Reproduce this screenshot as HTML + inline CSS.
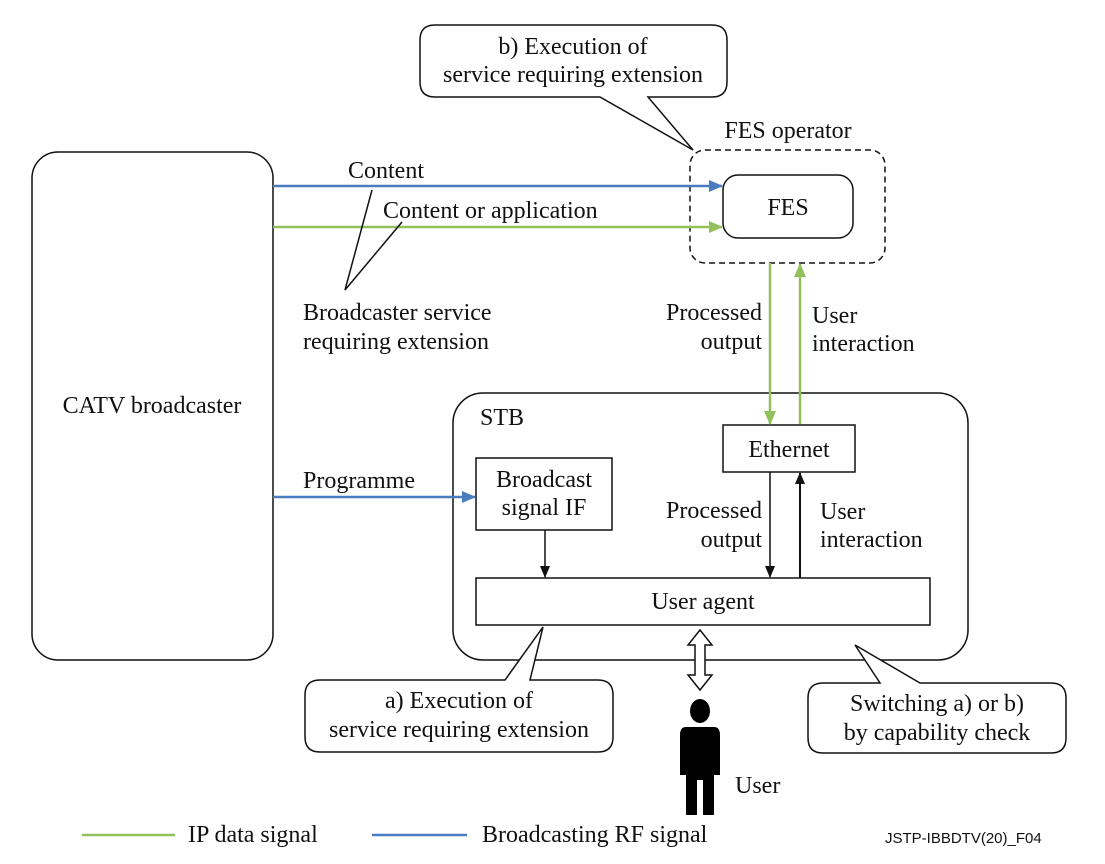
<!DOCTYPE html>
<html><head><meta charset="utf-8"><style>
html,body{margin:0;padding:0;background:#fff;}
svg{display:block;}
text{font-family:"Liberation Serif",serif;font-size:24px;fill:#111;}
</style></head><body>
<svg width="1105" height="864" viewBox="0 0 1105 864" xmlns="http://www.w3.org/2000/svg">
<defs>
<marker id="ab" markerWidth="14" markerHeight="12" refX="13" refY="6" orient="auto" markerUnits="userSpaceOnUse"><path d="M0,0 L14,6 L0,12 z" fill="#4a7cc0"/></marker>
<marker id="ag" markerWidth="14" markerHeight="12" refX="13" refY="6" orient="auto" markerUnits="userSpaceOnUse"><path d="M0,0 L14,6 L0,12 z" fill="#92c05a"/></marker>
<marker id="ak" markerWidth="12" markerHeight="10" refX="11" refY="5" orient="auto" markerUnits="userSpaceOnUse"><path d="M0,0 L12,5 L0,10 z" fill="#111"/></marker>
</defs>
<g fill="none" stroke="#111" stroke-width="1.5">
<rect x="32" y="152" width="241" height="508" rx="26"/>
<rect x="453" y="393" width="515" height="267" rx="30"/>
<rect x="723" y="175" width="130" height="63" rx="15"/>
<rect x="690" y="150" width="195" height="113" rx="15" stroke-dasharray="6,4"/>
<rect x="723" y="425" width="132" height="47"/>
<rect x="476" y="458" width="136" height="72"/>
<rect x="476" y="578" width="454" height="47"/>
</g>
<path d="M435,25 H712 Q727,25 727,40 V82 Q727,97 712,97 H648 L693,150 L600,97 H435 Q420,97 420,82 V40 Q420,25 435,25 Z" fill="#fff" stroke="#111" stroke-width="1.5"/>
<path d="M320,680 H505 L543,627 L530,680 H598 Q613,680 613,695 V737 Q613,752 598,752 H320 Q305,752 305,737 V695 Q305,680 320,680 Z" fill="#fff" stroke="#111" stroke-width="1.5"/>
<path d="M823,683 H880 L855,645 L920,683 H1051 Q1066,683 1066,698 V738 Q1066,753 1051,753 H823 Q808,753 808,738 V698 Q808,683 823,683 Z" fill="#fff" stroke="#111" stroke-width="1.5"/>
<line x1="273" y1="186" x2="722" y2="186" stroke="#4a7cc0" stroke-width="2.5" marker-end="url(#ab)"/>
<line x1="273" y1="227" x2="722" y2="227" stroke="#92c05a" stroke-width="2.5" marker-end="url(#ag)"/>
<line x1="273" y1="497" x2="475" y2="497" stroke="#4a7cc0" stroke-width="2.5" marker-end="url(#ab)"/>
<line x1="770" y1="263" x2="770" y2="424" stroke="#92c05a" stroke-width="2.5" marker-end="url(#ag)"/>
<line x1="800" y1="424" x2="800" y2="264" stroke="#92c05a" stroke-width="2.5" marker-end="url(#ag)"/>
<line x1="345" y1="290" x2="372" y2="190" stroke="#111" stroke-width="1.5"/>
<line x1="345" y1="290" x2="402" y2="222" stroke="#111" stroke-width="1.5"/>
<line x1="545" y1="530" x2="545" y2="577" stroke="#111" stroke-width="1.5" marker-end="url(#ak)"/>
<line x1="770" y1="472" x2="770" y2="577" stroke="#111" stroke-width="1.5" marker-end="url(#ak)"/>
<line x1="800" y1="578" x2="800" y2="473" stroke="#111" stroke-width="2" marker-end="url(#ak)"/>
<path d="M700,630 L712,645 H705 V675 H712 L700,690 L688,675 H695 V645 H688 Z" fill="#fff" stroke="#111" stroke-width="1.5"/>
<g fill="#000">
<ellipse cx="700" cy="711" rx="10" ry="12"/>
<path d="M686,727 H714 Q720,727 720,735 V775 H714 V815 H703 V780 H697 V815 H686 V775 H680 V735 Q680,727 686,727 Z"/>
</g>
<line x1="82" y1="835" x2="175" y2="835" stroke="#92c05a" stroke-width="2.5"/>
<line x1="372" y1="835" x2="467" y2="835" stroke="#4a7cc0" stroke-width="2.5"/>
<text x="573" y="54" text-anchor="middle">b) Execution of</text>
<text x="573" y="82" text-anchor="middle">service requiring extension</text>
<text x="788" y="138" text-anchor="middle">FES operator</text>
<text x="788" y="215" text-anchor="middle">FES</text>
<text x="348" y="178">Content</text>
<text x="383" y="218">Content or application</text>
<text x="303" y="320">Broadcaster service</text>
<text x="303" y="349">requiring extension</text>
<text x="152" y="413" text-anchor="middle">CATV broadcaster</text>
<text x="762" y="320" text-anchor="end">Processed</text>
<text x="762" y="349" text-anchor="end">output</text>
<text x="812" y="323">User</text>
<text x="812" y="351">interaction</text>
<text x="480" y="425">STB</text>
<text x="789" y="457" text-anchor="middle">Ethernet</text>
<text x="544" y="487" text-anchor="middle">Broadcast</text>
<text x="544" y="515" text-anchor="middle">signal IF</text>
<text x="303" y="488">Programme</text>
<text x="762" y="518" text-anchor="end">Processed</text>
<text x="762" y="547" text-anchor="end">output</text>
<text x="820" y="519">User</text>
<text x="820" y="547">interaction</text>
<text x="703" y="609" text-anchor="middle">User agent</text>
<text x="459" y="708" text-anchor="middle">a) Execution of</text>
<text x="459" y="737" text-anchor="middle">service requiring extension</text>
<text x="937" y="711" text-anchor="middle">Switching a) or b)</text>
<text x="937" y="740" text-anchor="middle">by capability check</text>
<text x="735" y="793">User</text>
<text x="188" y="842">IP data signal</text>
<text x="482" y="842">Broadcasting RF signal</text>
<text x="885" y="843" style="font-family:'Liberation Sans',sans-serif;font-size:15px;">JSTP-IBBDTV(20)_F04</text>
</svg>
</body></html>
